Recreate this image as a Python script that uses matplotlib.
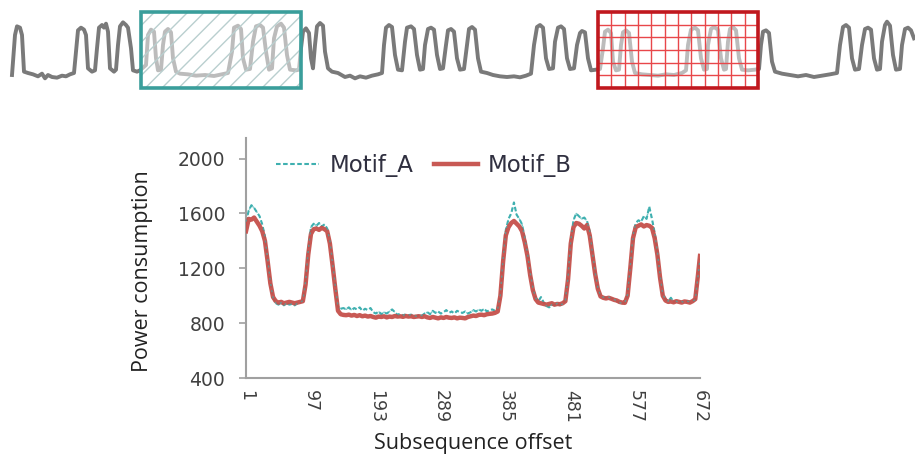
import numpy as np
import matplotlib
matplotlib.use("Agg")
import matplotlib.pyplot as plt
from matplotlib.patches import Rectangle

# --- data -----------------------------------------------------------------
offset = list(range(1, 670, 4)) + [672]

motif_b = [1470, 1560, 1555, 1570, 1540, 1510, 1470, 1400, 1250, 1090, 990, 960,
           950, 955, 945, 950, 955, 950, 945, 950, 955, 960, 1080, 1300,
           1450, 1485, 1490, 1480, 1495, 1485, 1470, 1380, 1220, 1050, 890, 865,
           860, 858, 862, 855, 860, 852, 858, 850, 855, 848, 852, 845,
           840, 848, 845, 850, 842, 848, 845, 852, 848, 850, 846, 852,
           848, 850, 845, 848, 850, 845, 850, 842, 838, 845, 840, 835,
           842, 838, 845, 840, 838, 842, 835, 840, 838, 835, 845, 850,
           855, 852, 860, 862, 858, 865, 868, 870, 875, 885, 1000, 1250,
           1440, 1500, 1530, 1545, 1525, 1505, 1470, 1390, 1290, 1150, 1040, 975,
           950, 945, 940, 935, 940, 945, 935, 940, 938, 945, 960, 1120,
           1380, 1500, 1530, 1525, 1510, 1490, 1515, 1440, 1300, 1160, 1050, 995,
           985, 980, 985, 978, 970, 965, 955, 950, 948, 1000, 1200, 1420,
           1500, 1510, 1520, 1505, 1515, 1510, 1495, 1420, 1300, 1130, 1000, 965,
           955, 958, 952, 960, 955, 950, 958, 955, 950, 960, 975, 1150,
           1290]

motif_a = [1540, 1620, 1660, 1640, 1610, 1580, 1520, 1430, 1270, 1100, 985, 945,
           935, 950, 930, 945, 935, 940, 930, 945, 950, 965, 1100, 1330,
           1500, 1525, 1510, 1530, 1505, 1520, 1490, 1400, 1240, 1070, 920, 905,
           910, 900, 915, 895, 910, 900, 915, 890, 905, 895, 910, 880,
           870, 885, 865, 880, 870, 885, 900, 880, 860, 870, 855, 865,
           858, 862, 855, 850, 860, 855, 870, 880, 865, 890, 875, 885,
           870, 880, 895, 875, 885, 870, 890, 880, 875, 885, 870, 880,
           895, 885, 900, 890, 905, 885, 895, 900, 890, 905, 1010, 1270,
           1480, 1560, 1600, 1680, 1590, 1560, 1520, 1420, 1310, 1170, 1060, 985,
           960, 990, 950, 925, 915, 935, 930, 945, 930, 940, 965, 1140,
           1400, 1550, 1600, 1580, 1560, 1570, 1545, 1470, 1320, 1170, 1060, 1000,
           990, 985, 990, 980, 975, 960, 950, 945, 950, 1010, 1220, 1440,
           1530, 1550, 1540, 1580, 1560, 1650, 1560, 1460, 1320, 1150, 1010, 975,
           960, 985, 955, 960, 950, 958, 950, 960, 955, 960, 970, 1140,
           1270]

x_ticks = [1, 97, 193, 289, 385, 481, 577, 672]
y_ticks = [400, 800, 1200, 1600, 2000]

# long series shown in the strip above the chart
strip_t = [12, 15, 17, 20, 22, 24, 28, 33, 38, 42, 45, 48, 52, 57, 62, 66, 70, 74,
           76, 78, 81, 84, 86, 88, 92, 95,
           97, 99, 102, 104, 106, 108, 110, 114, 116,
           118, 120, 123, 126, 128, 131, 133, 137, 140,
           146, 148, 151, 154, 156, 158, 161,
           163, 165, 168, 171, 173, 176, 180, 188, 196, 205, 214, 222, 228,
           232, 234, 238, 241, 243, 246, 250,
           253, 256, 260, 263, 266, 269, 272,
           274, 277, 281, 284, 287, 290, 296, 299,
           301, 303, 306, 309, 311, 313,
           315, 317, 320, 323, 325, 328, 332, 338, 345, 350, 355, 360, 366, 372, 378, 382,
           384, 386, 389, 392, 395, 398, 402,
           405, 407, 411, 414, 417, 420, 423,
           425, 428, 431, 434, 437, 440, 443,
           446, 448, 451, 454, 457, 460, 464,
           467, 469, 472, 475, 478, 481, 487, 493, 500, 507, 514, 520, 526, 531,
           534, 537, 540, 543, 546, 549, 553,
           555, 558, 561, 564, 567, 570, 574,
           577, 580, 582, 585, 588, 591, 596, 600,
           603, 605, 608, 611, 613, 616, 619,
           621, 623, 626, 629, 632, 635, 642, 650, 658, 666, 674, 682, 686,
           688, 691, 695, 698, 701, 704, 707,
           708, 711, 714, 718, 721, 724, 726,
           728, 730, 733, 736, 739, 742, 748, 755, 759,
           761, 763, 766, 769, 772, 775, 782, 790, 798, 806, 814, 822, 830, 837,
           840, 843, 846, 849, 852, 855, 859,
           862, 865, 868, 871, 874, 877, 880,
           882, 885, 887, 890, 893, 896, 900,
           902, 905, 908, 911, 914]
strip_v = [850, 1450, 1580, 1560, 1450, 900, 880, 860, 830, 870, 800, 850, 820, 810, 840, 830, 860, 880,
           1200, 1520, 1560, 1530, 1450, 950, 900, 920,
           1250, 1560, 1600, 1560, 1620, 1500, 950, 900, 930,
           1300, 1580, 1640, 1600, 1560, 1250, 920, 900, 920,
           1000, 1450, 1530, 1500, 1100, 920, 930,
           1300, 1500, 1540, 1490, 1100, 900, 870, 860, 840, 850, 835, 860, 880,
           1200, 1560, 1590, 1540, 1100, 930, 940,
           1350, 1580, 1600, 1560, 1200, 930, 950,
           1400, 1580, 1620, 1560, 1150, 930, 920, 930,
           1250, 1500, 1550, 1480, 1100, 950,
           1300, 1580, 1630, 1590, 1200, 950, 900, 880, 820, 840, 800, 830, 810, 840, 860, 880,
           1300, 1560, 1600, 1570, 1150, 930, 920,
           1350, 1560, 1580, 1540, 1150, 930, 940,
           1300, 1540, 1560, 1530, 1150, 940, 950,
           1300, 1520, 1540, 1500, 1100, 930, 940,
           1300, 1540, 1570, 1530, 1100, 900, 880, 850, 830, 820, 830, 815, 840, 870,
           1300, 1570, 1600, 1560, 1100, 940, 950,
           1350, 1560, 1580, 1540, 1100, 940, 950,
           1300, 1480, 1510, 1490, 1100, 920, 930, 940,
           1250, 1500, 1530, 1480, 1050, 920, 930,
           1300, 1490, 1520, 1480, 1050, 880, 860, 850, 840, 860, 850, 880, 920,
           1300, 1530, 1560, 1520, 1100, 930, 940,
           1300, 1540, 1570, 1530, 1100, 930, 940,
           1350, 1540, 1570, 1520, 1100, 930, 920, 930, 940,
           1300, 1500, 1520, 1480, 1050, 900, 870, 850, 830, 850, 820, 840, 860, 880,
           1300, 1570, 1600, 1560, 1100, 930, 940,
           1300, 1540, 1560, 1530, 1100, 930, 940,
           1350, 1600, 1650, 1590, 1150, 930, 940,
           1300, 1540, 1560, 1520, 1400]

box_a = (141, 301)
box_b = (598, 758)

# --- figure -----------------------------------------------------------------
plt.rcParams["hatch.linewidth"] = 1.0
fig = plt.figure(figsize=(9.15, 4.57), dpi=100)

# strip with the two highlighted subsequences
ax_top = fig.add_axes([0, 1 - 95 / 457, 1, 85 / 457])
ax_top.plot(strip_t, strip_v, color="#7a7a7a", lw=2.8, solid_joinstyle="round", zorder=1)
ax_top.set_xlim(0, 915)
ax_top.set_ylim(550, 1825)
ax_top.axis("off")

y0, y1 = 655, 1795
# box A: light diagonal hatch
ax_top.add_patch(Rectangle((box_a[0], y0), box_a[1] - box_a[0], y1 - y0,
                           facecolor=(1, 1, 1, 0.5), edgecolor="#b9cfcf",
                           hatch="//", lw=0, zorder=2))
ax_top.add_patch(Rectangle((box_a[0], y0), box_a[1] - box_a[0], y1 - y0,
                           fill=False, edgecolor="#3a9e9b", lw=2.6, zorder=3))
# box B: red grid
ax_top.add_patch(Rectangle((box_b[0], y0), box_b[1] - box_b[0], y1 - y0,
                           facecolor=(1, 1, 1, 0.5), lw=0, zorder=2))
gx = np.linspace(box_b[0], box_b[1], 13)[1:-1]
gy = np.linspace(y0, y1, 7)[1:-1]
ax_top.vlines(gx, y0, y1, color="#e8474a", lw=1.0, zorder=2.5)
ax_top.hlines(gy, box_b[0], box_b[1], color="#e8474a", lw=1.0, zorder=2.5)
ax_top.add_patch(Rectangle((box_b[0], y0), box_b[1] - box_b[0], y1 - y0,
                           fill=False, edgecolor="#c0181e", lw=2.6, zorder=3))

# motif comparison chart
ax = fig.add_axes([246 / 915, 1 - 378 / 457, 454 / 915, 240 / 457])
ax.plot(offset, motif_a, color="#3fb0b0", lw=1.5, ls=(0, (2.2, 1.2)), label="Motif_A", zorder=2)
ax.plot(offset, motif_b, color="#c5504b", lw=3.2, label="Motif_B", zorder=3, alpha=0.95)
ax.plot(offset, motif_a, color="#3fb0b0", lw=1.0, ls=(0, (1.5, 3)), zorder=4, alpha=0.7)

ax.set_xlim(1, 672)
ax.set_ylim(400, 2150)
ax.set_xticks(x_ticks)
ax.set_yticks(y_ticks)
ax.tick_params(axis="x", length=0, pad=9, labelrotation=-90, labelsize=12.5, colors="#404040")
ax.tick_params(axis="y", length=5, width=1.2, pad=10, labelsize=13.5, colors="#404040")
ax.tick_params(axis="y", color="#a0a0a0")

for side in ["top", "right"]:
    ax.spines[side].set_visible(False)
for side in ["left", "bottom"]:
    ax.spines[side].set_color("#a0a0a0")
    ax.spines[side].set_linewidth(1.5)

ax.set_ylabel("Power consumption", fontsize=15.5, family="Open Sans", color="#222222")
ax.yaxis.set_label_coords(-0.205, 0.446)
ax.set_xlabel("Subsequence offset", fontsize=15.5, family="Open Sans", color="#222222", labelpad=7)

ax.legend(loc="upper left", bbox_to_anchor=(0.02, 1.02), ncol=2, frameon=False,
          fontsize=16.5, handlelength=1.9, columnspacing=0.9, handletextpad=0.45,
          labelcolor="#303040")

fig.savefig("out.png", dpi=100)
